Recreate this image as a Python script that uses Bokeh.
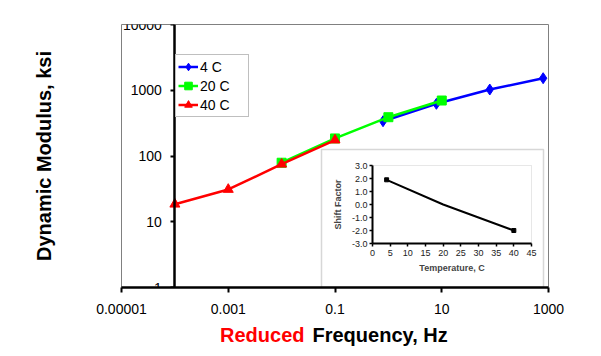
from bokeh.plotting import figure
from bokeh.models import (Range1d, FixedTicker, CustomJSTickFormatter, Legend, LegendItem,
                          Label, LinearAxis, NumeralTickFormatter, BoxAnnotation, LinearScale)
from bokeh.layouts import column
from bokeh.embed import file_html
from bokeh.resources import INLINE

FONT = "Liberation Sans"

# ---- data ----
freq_4 = [0.794, 7.94, 79.4, 794]
mod_4 = [338, 622, 1026, 1524]
freq_20 = [0.01, 0.1, 1, 10]
mod_20 = [79, 185, 389, 698]
freq_40 = [0.0001, 0.001, 0.01, 0.1]
mod_40 = [18.5, 31, 75, 175]

x_ticks = [1e-5, 1e-3, 1e-1, 1e1, 1e3]
x_tick_labels = ["0.00001", "0.001", "0.1", "10", "1000"]
y_ticks = [1, 10, 100, 1000, 10000]
y_tick_labels = ["1", "10", "100", "1000", "10000"]

temps = [4, 20, 40]
shift = [1.9, 0.0, -2.0]
inset_x_lim = (0, 45)
inset_y_lim = (-3, 3)
inset_x_ticks = [0, 5, 10, 15, 20, 25, 30, 35, 40, 45]
inset_y_ticks = [-3, -2, -1, 0, 1, 2, 3]

# ---- layout geometry (canvas pixels) ----
FR_L, FR_R, FR_T, FR_B = 121, 548, 24, 287          # main frame
IN_L, IN_R, IN_T, IN_B = 372, 531, 165, 243         # inset plot area
BOX_L, BOX_R, BOX_T = 321, 543, 149                 # inset outer box

ipx = (IN_R - IN_L) / (inset_x_lim[1] - inset_x_lim[0])
ipy = (IN_B - IN_T) / (inset_y_lim[1] - inset_y_lim[0])
ix_range = Range1d(inset_x_lim[0] - (IN_L - FR_L) / ipx, inset_x_lim[1] + (FR_R - IN_R) / ipx)
iy_range = Range1d(inset_y_lim[0] - (FR_B - IN_B) / ipy, inset_y_lim[1] + (IN_T - FR_T) / ipy)

LOOKUP = """
let best = 0, bd = 1e9;
for (let i = 0; i < vals.length; i++) {
  const d = Math.abs(Math.log10(vals[i]) - Math.log10(tick));
  if (d < bd) { bd = d; best = i; }
}
return bd < 1e-6 ? labels[best] : "";
"""

p = figure(x_axis_type="log", y_axis_type="log",
           x_range=Range1d(1e-5, 1e3), y_range=Range1d(1, 1e4),
           frame_width=FR_R - FR_L, frame_height=FR_B - FR_T,
           min_border_left=FR_L, min_border_right=45, min_border_top=FR_T, min_border_bottom=35,
           output_backend="svg", toolbar_location=None,
           background_fill_color="white", border_fill_color="white",
           outline_line_color="#808080", outline_line_width=1)
p.grid.visible = False
p.extra_x_ranges = {"ix": ix_range}
p.extra_y_ranges = {"iy": iy_range}
p.extra_x_scales = {"ix": LinearScale()}
p.extra_y_scales = {"iy": LinearScale()}

# x axis
xa = p.xaxis[0]
xa.ticker = FixedTicker(ticks=x_ticks)
xa.formatter = CustomJSTickFormatter(args=dict(vals=x_ticks, labels=x_tick_labels), code=LOOKUP)
xa.axis_line_width = 2.5
xa.axis_line_color = "black"
xa.major_tick_out = 5
xa.major_tick_in = 0
xa.major_tick_line_width = 2
xa.minor_tick_line_color = None
xa.major_label_text_font = FONT
xa.major_label_text_font_size = "14px"
xa.major_label_text_color = "black"
xa.major_label_standoff = 11

# y axis crossing at 0.0001
ya = p.yaxis[0]
ya.fixed_location = 1e-4
ya.ticker = FixedTicker(ticks=y_ticks)
ya.formatter = CustomJSTickFormatter(args=dict(vals=y_ticks, labels=y_tick_labels), code=LOOKUP)
ya.axis_line_width = 2.5
ya.axis_line_color = "black"
ya.major_tick_out = 4
ya.major_tick_in = 0
ya.major_tick_line_width = 2
ya.minor_tick_line_color = None
ya.major_label_text_font = FONT
ya.major_label_text_font_size = "14px"
ya.major_label_text_color = "black"
ya.major_label_standoff = 9

# y axis title via a tick-less axis
ylab = LinearAxis(ticker=FixedTicker(ticks=[]), axis_label="Dynamic Modulus, ksi",
                  axis_line_color=None, major_tick_line_color=None, minor_tick_line_color=None,
                  major_label_text_color=None, axis_label_standoff=67,
                  axis_label_text_font=FONT, axis_label_text_font_style="bold",
                  axis_label_text_font_size="20px", axis_label_text_color="black")
p.add_layout(ylab, "left")

# ---- inset (drawn with its own linear scales inside the main frame) ----
def ix_of(px):
    return inset_x_lim[0] + (px - IN_L) / ipx

def iy_of(py):
    return inset_y_lim[1] - (py - IN_T) / ipy

p.add_layout(BoxAnnotation(left=ix_of(BOX_L), right=ix_of(BOX_R), top=iy_of(BOX_T), bottom=iy_range.start,
                           x_range_name="ix", y_range_name="iy", level="underlay",
                           fill_color="white", fill_alpha=1, line_color="#7a7a7a", line_width=1.5))
p.add_layout(BoxAnnotation(left=inset_x_lim[0], right=inset_x_lim[1], bottom=inset_y_lim[0], top=inset_y_lim[1],
                           x_range_name="ix", y_range_name="iy", level="underlay",
                           fill_alpha=0, line_color="#B0B0B0", line_width=1))

iax = LinearAxis(x_range_name="ix", y_range_name="iy", fixed_location=inset_y_lim[0], bounds=inset_x_lim,
                 ticker=FixedTicker(ticks=inset_x_ticks),
                 axis_line_width=2, axis_line_color="black",
                 major_tick_out=3, major_tick_in=0, major_tick_line_width=1.5, minor_tick_line_color=None,
                 major_label_text_font=FONT, major_label_text_font_size="9px",
                 major_label_text_color="#222222", major_label_standoff=3,
                 axis_label="Temperature, C", axis_label_text_font=FONT,
                 axis_label_text_font_style="bold", axis_label_text_font_size="9px",
                 axis_label_standoff=4)
p.add_layout(iax, "below")

iay = LinearAxis(x_range_name="ix", y_range_name="iy", fixed_location=inset_x_lim[0], bounds=inset_y_lim,
                 ticker=FixedTicker(ticks=inset_y_ticks), formatter=NumeralTickFormatter(format="0.0"),
                 axis_line_width=2, axis_line_color="black",
                 major_tick_out=3, major_tick_in=0, major_tick_line_width=1.5, minor_tick_line_color=None,
                 major_label_text_font=FONT, major_label_text_font_size="9px",
                 major_label_text_color="#222222", major_label_standoff=2,
                 axis_label="Shift Factor", axis_label_text_font=FONT,
                 axis_label_text_font_style="bold", axis_label_text_font_size="9px",
                 axis_label_standoff=6)
p.add_layout(iay, "left")

p.line(temps, shift, line_color="black", line_width=2, x_range_name="ix", y_range_name="iy")
p.scatter(temps[::2], shift[::2], marker="square", size=4, color="black", x_range_name="ix", y_range_name="iy")

# ---- main series ----
l4 = p.line(freq_4, mod_4, line_color="#0000FF", line_width=2.5)
s4 = p.scatter(freq_4, mod_4, marker="diamond", size=11, color="#0000FF")
l20 = p.line(freq_20, mod_20, line_color="#00FF00", line_width=2.5)
s20 = p.scatter(freq_20, mod_20, marker="square", size=9, color="#00FF00")
l40 = p.line(freq_40, mod_40, line_color="#FF0000", line_width=2.5)
s40 = p.scatter(freq_40, mod_40, marker="triangle", size=10, color="#FF0000")

legend = Legend(items=[LegendItem(label="4 C", renderers=[l4, s4]),
                       LegendItem(label="20 C", renderers=[l20, s20]),
                       LegendItem(label="40 C", renderers=[l40, s40])],
                location=(54, 170), orientation="vertical",
                border_line_color="#808080", border_line_width=1,
                background_fill_color="white", background_fill_alpha=1,
                label_text_font=FONT, label_text_font_size="14px", label_text_color="black",
                glyph_width=20, glyph_height=19, label_height=19, label_width=46,
                label_standoff=2, spacing=0, padding=2, margin=0)
p.add_layout(legend)

# ---- x axis title (two colours) in a strip below the chart ----
# (the strip's frame is aligned with the main frame, so x is measured from FR_L)
TITLE_H = 26
tf = figure(width=FR_R + 45, height=TITLE_H,
            x_range=Range1d(0, 1), y_range=Range1d(0, 1),
            x_axis_location=None, y_axis_location=None, min_border=0,
            output_backend="svg", toolbar_location=None,
            background_fill_color="white", border_fill_color="white", outline_line_color=None)
tf.grid.visible = False
tf.add_layout(Label(x=304 - FR_L, y=14, x_units="screen", y_units="screen", text="Reduced",
                    text_align="right", text_baseline="middle", text_color="#FF0000",
                    text_font=FONT, text_font_style="bold", text_font_size="20px"))
tf.add_layout(Label(x=312 - FR_L, y=14, x_units="screen", y_units="screen", text="Frequency, Hz",
                    text_align="left", text_baseline="middle", text_color="black",
                    text_font=FONT, text_font_style="bold", text_font_size="20px"))

layout = column(p, tf, spacing=0)

open("out.html", "w").write(file_html(layout, INLINE))
